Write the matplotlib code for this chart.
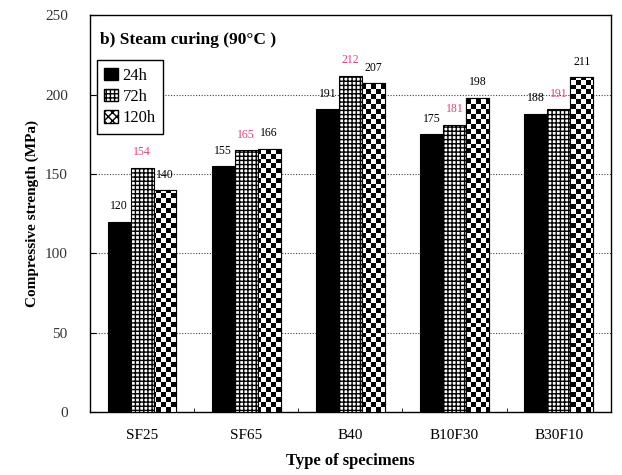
import numpy as np
import matplotlib
matplotlib.use('Agg')
import matplotlib.pyplot as plt
from matplotlib.patches import Patch

plt.rcParams['font.family'] = ['Liberation Serif', 'DejaVu Serif']

specimens = ['SF25', 'SF65', 'B40', 'B10F30', 'B30F10']
h24 = [120, 155, 191, 175, 188]
h72 = [154, 165, 212, 181, 191]
h120 = [140, 166, 207, 198, 211]

fig = plt.figure(figsize=(6.22, 4.75), dpi=100)
ax = fig.add_axes([0.1447, 0.1326, 0.8373, 0.8354])

x = np.arange(len(specimens))
w = 0.22
xlim = (-0.5, len(specimens) - 0.5)
ylim = (0, 250)

b1 = ax.bar(x - w, h24, w, color='black', edgecolor='black', linewidth=0.8, zorder=3)
b2 = ax.bar(x, h72, w, color='white', edgecolor='black', hatch='++++', linewidth=0.8, zorder=3)
b3 = ax.bar(x + w, h120, w, color='white', edgecolor='black', linewidth=0.8, zorder=3)

# checkerboard fill for the 120h bars
ncol, nrow = 104, 80
checker = (np.indices((nrow, ncol)).sum(axis=0) % 2).astype(float)
for bar in b3:
    im = ax.imshow(checker, extent=[xlim[0], xlim[1], ylim[0], ylim[1]],
                   cmap='gray', interpolation='nearest', aspect='auto', zorder=3.5)
    im.set_clip_path(bar)
for bar in b3:
    ax.add_patch(plt.Rectangle(bar.get_xy(), bar.get_width(), bar.get_height(),
                               fill=False, edgecolor='black', linewidth=0.8, zorder=4))

for bars, vals, col in [(b1, h24, 'black'), (b2, h72, '#e8407a'), (b3, h120, 'black')]:
    for bar, v in zip(bars, vals):
        ax.annotate(str(v), (bar.get_x() + bar.get_width() / 2, v),
                    xytext=(0, 11), textcoords='offset points',
                    ha='center', va='center', fontsize=8.5, color=col, zorder=5)

ax.set_xlim(*xlim)
ax.set_ylim(*ylim)
ax.set_yticks([0, 50, 100, 150, 200, 250])
ax.set_xticks(x)
ax.set_xticklabels(specimens)
ax.set_xticks(np.arange(0.5, len(specimens) - 0.5, 1), minor=True)
ax.tick_params(axis='x', which='major', length=0, labelsize=11, pad=12)
ax.tick_params(axis='x', which='minor', direction='in', length=3)
ax.tick_params(axis='y', direction='in', length=4, labelsize=11, pad=16)
for lbl in ax.get_yticklabels():
    lbl.set_color('#333333')

for yv in [50, 100, 150, 200]:
    ax.axhline(yv, color='#444444', linestyle=(0, (1, 1.5)), linewidth=0.8, zorder=1)

ax.set_ylabel('Compressive strength (MPa)', fontsize=11, fontweight='bold', labelpad=4)
ax.set_xlabel('Type of specimens', fontsize=12, fontweight='bold', labelpad=8)

ax.text(0.02, 0.957, 'b) Steam curing (90°C )', transform=ax.transAxes,
        fontsize=12.5, fontweight='bold', va='top', ha='left')

handles = [Patch(facecolor='black', edgecolor='black', label='24h'),
           Patch(facecolor='white', edgecolor='black', hatch='++++', label='72h'),
           Patch(facecolor='white', edgecolor='black', hatch='xxxx', label='120h')]
leg = ax.legend(handles=handles, loc='upper left', bbox_to_anchor=(0.013, 0.887),
                borderaxespad=0, fancybox=False, edgecolor='black', framealpha=1,
                handlelength=0.8, handleheight=0.8, handletextpad=0.3,
                labelspacing=0.3, fontsize=12, borderpad=0.45)
leg.get_frame().set_linewidth(1.0)
leg.set_zorder(6)

for s in ax.spines.values():
    s.set_linewidth(1.0)

fig.savefig('out.png', dpi=100)
